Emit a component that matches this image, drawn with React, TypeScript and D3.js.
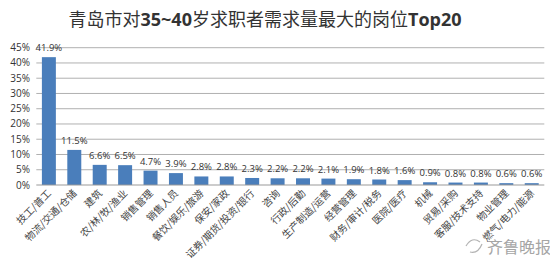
import React from "react";
import * as d3 from "d3";

const categories = [
  "技工/普工", "物流/交通/仓储", "建筑", "农/林/牧/渔业", "销售管理", "销售人员",
  "餐饮/娱乐/旅游", "保安/家政", "证券/期货/投资/银行", "咨询", "行政/后勤",
  "生产制造/运营", "经营管理", "财务/审计/税务", "医院/医疗", "机械",
  "贸易/采购", "客服/技术支持", "物业管理", "燃气/电力/能源",
];
const values = [41.9, 11.5, 6.6, 6.5, 4.7, 3.9, 2.8, 2.8, 2.3, 2.2, 2.2, 2.1, 1.9, 1.8, 1.6, 0.9, 0.8, 0.8, 0.6, 0.6];
const yTicks = [0, 5, 10, 15, 20, 25, 30, 35, 40, 45];

const W = 550, H = 271;
const CJK = "'Noto Sans CJK SC', 'Noto Sans', sans-serif";
const LAT = "'Open Sans', 'Liberation Sans', Arial, sans-serif";

export default function App() {
  const x = d3.scaleBand<string>().domain(categories).range([36.3, 544.3]).paddingInner(0.45).paddingOuter(0.22);
  const y = d3.scaleLinear().domain([0, 45]).range([185, 47.7]);
  const x0 = 36.3, x1 = 544.3;
  return (
    <svg width={W} height={H} style={{ position: "absolute", left: 0, top: 0, background: "#fff" }}>
      <text x={265} y={26} textAnchor="middle" fontSize={18} fill="#333" fontFamily={CJK}>
        <tspan>青岛市对</tspan>
        <tspan fontFamily={LAT} fontWeight="bold">35~40</tspan>
        <tspan>岁求职者需求量最大的岗位</tspan>
        <tspan fontFamily={LAT} fontWeight="bold">Top20</tspan>
      </text>
      {yTicks.map((t) => (
        <g key={t}>
          {t > 0 && <line x1={x0} x2={x1} y1={y(t)} y2={y(t)} stroke="#b0b0b0" strokeWidth={1} />}
          <text x={30} y={y(t) + 3.5} textAnchor="end" fontSize={10} fill="#333" fontFamily={LAT}>{t}%</text>
        </g>
      ))}
      {categories.map((c, i) => (
        <g key={c}>
          <rect x={x(c)} y={y(values[i])} width={x.bandwidth()} height={y(0) - y(values[i])} fill="#4a7ebb" />
          <text x={(x(c) as number) + x.bandwidth() / 2} y={y(values[i]) - 6} textAnchor="middle" fontSize={9.5} fill="#333" fontFamily={LAT}>
            {values[i].toFixed(1)}%
          </text>
          <text
            transform={`translate(${(x(c) as number) + x.bandwidth() / 2 + 3},${y(0) + 9}) rotate(-45)`}
            textAnchor="end"
            fontSize={10}
            fill="#444"
            fontFamily={CJK}
          >
            {c}
          </text>
        </g>
      ))}
      <line x1={x0} x2={x1} y1={y(0)} y2={y(0)} stroke="#999" strokeWidth={1} />
      <g opacity={0.75}>
        <path d="M466,246 q6,-10 14,-4 M470,252 q8,2 12,-8" stroke="#999" fill="none" strokeWidth={1.2} />
        <text x={487} y={253} fontSize={16} fill="#888" fontFamily={CJK}>齐鲁晚报</text>
      </g>
    </svg>
  );
}
